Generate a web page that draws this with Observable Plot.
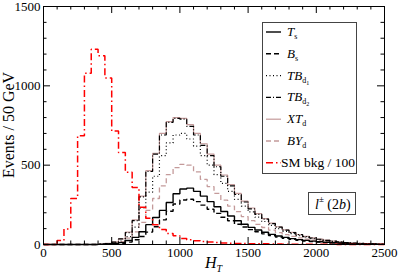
<!DOCTYPE html>
<html><head><meta charset="utf-8">
<script src="https://cdn.jsdelivr.net/npm/d3@7"></script>
<script src="https://cdn.jsdelivr.net/npm/@observablehq/plot@0.6"></script>
<style>
body{margin:0;background:#fff}
#chart{position:relative;width:398px;height:278px}
#chart svg, #chart svg text{font-family:"Liberation Serif","Times New Roman",serif !important}
#overlay{position:absolute;left:0;top:0;pointer-events:none}
</style></head><body><div id="chart"></div>
<script>
// bin lower edges (GeV), 50 GeV bins from 0 to 2500
const binEdges = [0,50,100,150,200,250,300,350,400,450,500,550,600,650,700,750,800,850,900,950,1000,1050,1100,1150,1200,1250,1300,1350,1400,1450,1500,1550,1600,1650,1700,1750,1800,1850,1900,1950,2000,2050,2100,2150,2200,2250,2300,2350,2400,2450,2500];

const Ts   = [0,0,0,0,0,0,0,0,1,3,6,12,25,45,80,125,170,215,265,320,350,355,335,305,270,238,208,180,150,128,108,91,77,64,54,45,37,31,26,21,17,14,11,9,7,5,4,3,2,1];
const Bs   = [0,0,0,0,0,0,0,0,1,2,4,8,15,30,50,78,112,155,210,255,280,285,270,248,222,196,172,150,128,110,94,80,67,56,47,39,32,27,22,18,15,12,10,8,6,5,4,3,2,1];
const TBd1 = [0,0,0,0,0,0,0,0,2,4,10,22,50,110,230,330,430,560,640,690,700,665,620,560,500,440,385,335,285,242,205,172,145,120,100,83,68,56,46,37,30,24,19,15,11,8,6,5,3,2];
const TBd2 = [0,0,0,0,0,0,0,0,3,6,15,35,75,150,300,460,570,690,770,795,790,745,690,625,560,490,430,370,315,268,225,190,160,132,110,90,75,62,50,41,33,26,21,16,12,9,7,5,4,3];
const XTd  = [0,0,0,0,0,0,0,0,3,7,16,36,78,155,305,465,575,700,775,800,795,755,700,635,570,500,438,378,322,273,230,194,163,135,112,92,77,63,51,42,34,27,21,16,12,9,7,5,4,3];
const BYd  = [0,0,0,0,0,0,0,0,1,4,8,18,40,80,140,215,290,370,440,485,505,500,458,410,365,322,280,242,207,176,150,127,107,90,75,62,51,42,34,28,22,18,14,11,8,6,5,3,2,1];
const SMbkg= [0,0,25,98,290,685,1080,1230,1190,1050,715,580,455,360,235,165,125,95,70,55,38,30,24,19,15,12,10,8,7,6,5,4,4,3,3,2,2,2,1,1,1,1,1,0,0,0,0,0,0,0];

const xLabelTicks = [0,500,1000,1500,2000,2500];
const xMinorTicks = [100,200,300,400,600,700,800,900,1100,1200,1300,1400,1600,1700,1800,1900,2100,2200,2300,2400];
const yLabelTicks = [0,500,1000,1500];
const yMinorTicks = [100,200,300,400,600,700,800,900,1100,1200,1300,1400];

const seriesNames = ["Ts","Bs","TBd1","TBd2","XTd","BYd","SM"];
const seriesValues = [Ts,Bs,TBd1,TBd2,XTd,BYd,SMbkg];
const styles = {
  Ts:   {stroke:"#000", dash:null, w:1.4},
  Bs:   {stroke:"#000", dash:"5,3", w:1.4},
  TBd1: {stroke:"#000", dash:"1,2.5", w:1.2},
  TBd2: {stroke:"#000", dash:"5,2,1,2", w:1.2},
  XTd:  {stroke:"#c49a9a", dash:null, w:1.2},
  BYd:  {stroke:"#c49a9a", dash:"5,3", w:1.3},
  SM:   {stroke:"#ff0000", dash:"7,3,1.5,3", w:1.5}
};

const W=398, H=278, mL=43, mR=14, mT=6, mB=34;
const pw = W-mL-mR, ph = H-mT-mB;

function rowsFor(vals){
  const r = vals.map((v,i)=>({x:binEdges[i], y:v}));
  r.push({x:binEdges[vals.length], y:vals[vals.length-1]});
  return r;
}

const lineMarks = ["BYd","XTd","TBd1","TBd2","Bs","Ts","SM"].map(n=>{
  const s = styles[n];
  return Plot.line(rowsFor(seriesValues[seriesNames.indexOf(n)]), {
    x:"x", y:"y", curve:"step-after", stroke:s.stroke, strokeWidth:s.w,
    strokeDasharray:s.dash, strokeLinejoin:"miter", strokeLinecap:"butt"
  });
});

const chart = Plot.plot({
  width:W, height:H, marginLeft:mL, marginRight:mR, marginTop:mT, marginBottom:mB,
  style:{fontFamily:"'Liberation Serif', 'Times New Roman', serif", fontSize:"13px", color:"#000", background:"#fff"},
  x:{domain:[0,2500]},
  y:{domain:[0,1500]},
  marks:[
    ...lineMarks,
    Plot.tickX(xLabelTicks,{x:d=>d, insetTop:ph-7, stroke:"#000"}),
    Plot.tickX(xLabelTicks,{x:d=>d, insetBottom:ph-7, stroke:"#000"}),
    Plot.tickX(xMinorTicks,{x:d=>d, insetTop:ph-3.5, stroke:"#000"}),
    Plot.tickX(xMinorTicks,{x:d=>d, insetBottom:ph-3.5, stroke:"#000"}),
    Plot.tickY(yLabelTicks,{y:d=>d, insetRight:pw-7, stroke:"#000"}),
    Plot.tickY(yLabelTicks,{y:d=>d, insetLeft:pw-7, stroke:"#000"}),
    Plot.tickY(yMinorTicks,{y:d=>d, insetRight:pw-3.5, stroke:"#000"}),
    Plot.tickY(yMinorTicks,{y:d=>d, insetLeft:pw-3.5, stroke:"#000"}),
    Plot.axisX(xLabelTicks,{tickSize:0, tickPadding:3, label:null, fontSize:13, tickFormat:d=>String(d)}),
    Plot.axisY(yLabelTicks,{tickSize:0, tickPadding:3, label:null, fontSize:13, tickFormat:d=>String(d)}),
    Plot.frame({stroke:"#000", strokeWidth:1})
  ]
});
document.getElementById("chart").appendChild(chart);

// overlay: titles, legend, annotation
const ov = d3.select("#chart").append("svg").attr("id","overlay").attr("width",W).attr("height",H);

// y title
ov.append("text").attr("transform",`translate(14,${mT+ph/2}) rotate(-90)`)
  .attr("text-anchor","middle").attr("font-size",16).text("Events / 50 GeV");
// x title
const xt = ov.append("text").attr("x", mL+pw/2).attr("y",268).attr("text-anchor","middle").attr("font-size",16);
xt.append("tspan").attr("font-style","italic").text("H");
xt.append("tspan").attr("font-style","italic").attr("font-size",10).attr("dy",4).text("T");

// legend
const legendLabels = [
  [["T","i",13],["s","s",8]],
  [["B","i",13],["s","s",8]],
  [["TB","i",13],["d","s",8],["1","ss",6]],
  [["TB","i",13],["d","s",8],["2","ss",6]],
  [["XT","i",13],["d","s",8]],
  [["BY","i",13],["d","s",8]],
  [["SM bkg / 100","n",13.5]]
];
ov.append("rect").attr("x",262.5).attr("y",22.5).attr("width",94).attr("height",151)
  .attr("fill","#fff").attr("stroke","#444").attr("stroke-width",1);
seriesNames.forEach((n,i)=>{
  const base = 36 + i*21.8;
  const s = styles[n];
  ov.append("line").attr("x1",266).attr("x2",281).attr("y1",base-4).attr("y2",base-4)
    .attr("stroke",s.stroke).attr("stroke-width",s.w).attr("stroke-dasharray",s.dash);
  const t = ov.append("text").attr("x", n==="SM"?281:287).attr("y",base).attr("font-size",13);
  let dy = 0;
  legendLabels[i].forEach(([txt,kind,fs])=>{
    const sp = t.append("tspan").attr("font-size",fs).text(txt);
    if(kind==="i") sp.attr("font-style","italic");
    if(kind==="s"){ sp.attr("dy",3-dy); dy=3; }
    if(kind==="ss"){ sp.attr("dy",2); dy+=2; }
  });
});

// annotation box
ov.append("rect").attr("x",308.5).attr("y",192.5).attr("width",47).attr("height",22)
  .attr("fill","#fff").attr("stroke","#444").attr("stroke-width",1);
const at = ov.append("text").attr("x",315).attr("y",209).attr("font-size",14);
at.append("tspan").attr("font-style","italic").text("l");
at.append("tspan").attr("font-size",9).attr("dy",-7).text("±");
at.append("tspan").attr("dy",7).text(" (2");
at.append("tspan").attr("font-style","italic").text("b");
at.append("tspan").text(")");
</script></body></html>
